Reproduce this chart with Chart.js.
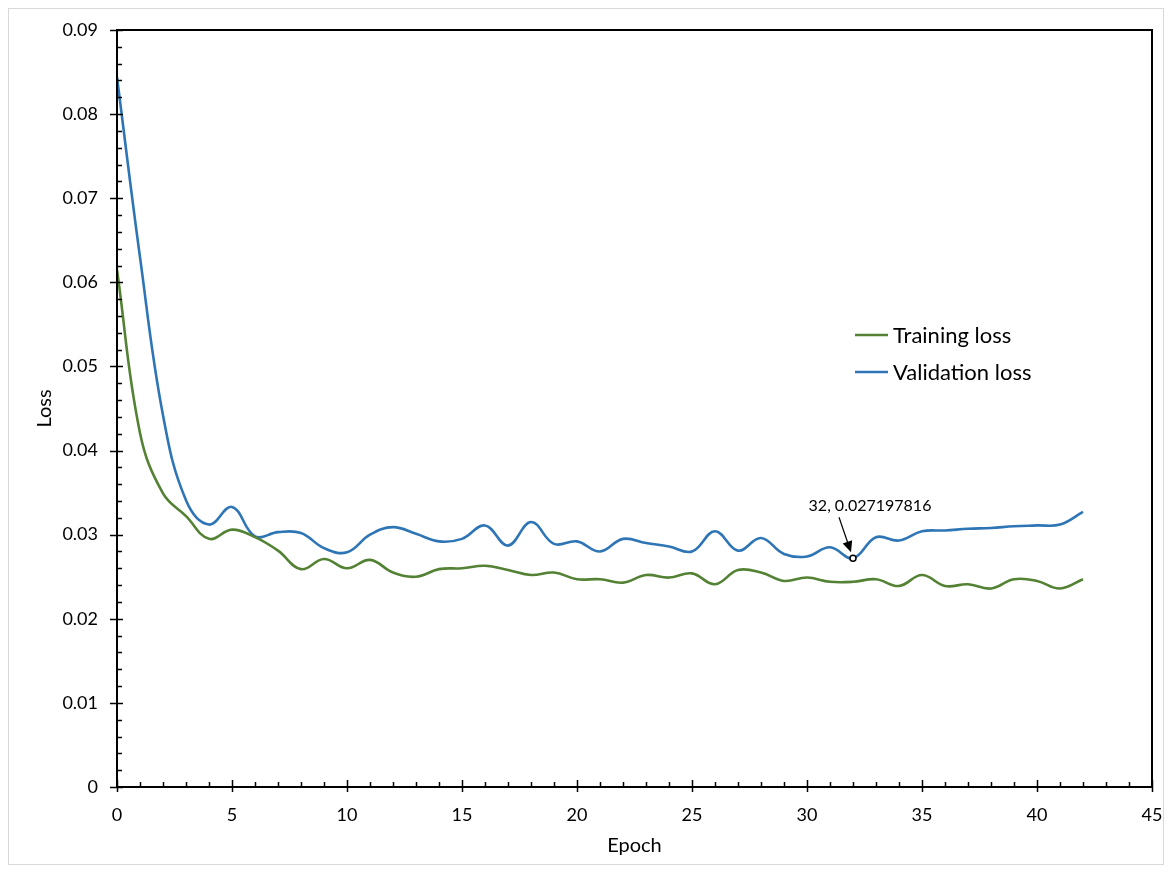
<!DOCTYPE html>
<html><head><meta charset="utf-8">
<script src="https://cdn.jsdelivr.net/npm/chart.js@4.4.1/dist/chart.umd.min.js"></script>
<style>html,body{margin:0;padding:0;background:#fff}#wrap{width:1172px;height:873px;position:relative}</style>
</head><body><div id="wrap"><canvas id="c" width="1172" height="873"></canvas></div>
<script>
const epochs = [0,1,2,3,4,5,6,7,8,9,10,11,12,13,14,15,16,17,18,19,20,21,22,23,24,25,26,27,28,29,30,31,32,33,34,35,36,37,38,39,40,41,42];
const trainingLoss = [0.0615,0.0421,0.0349,0.0322,0.0295,0.0306,0.0297,0.0281,0.0259,0.0271,0.0260,0.0270,0.0255,0.0250,0.0259,0.0260,0.0263,0.0258,0.0252,0.0255,0.0247,0.0247,0.0243,0.0252,0.0249,0.0254,0.0241,0.0258,0.0255,0.0245,0.0249,0.0244,0.0244,0.0247,0.0239,0.0252,0.0239,0.0241,0.0236,0.0247,0.0245,0.0236,0.0247];
const validationLoss = [0.0844,0.0630,0.0442,0.0341,0.0312,0.0333,0.0298,0.0303,0.0302,0.0284,0.0279,0.0300,0.0309,0.0301,0.0292,0.0295,0.0311,0.0287,0.0315,0.0289,0.0292,0.0280,0.0295,0.0290,0.0286,0.0280,0.0304,0.0281,0.0296,0.0277,0.0274,0.0285,0.027197816,0.0297,0.0293,0.0304,0.0305,0.0307,0.0308,0.0310,0.0311,0.0312,0.0327];
const seriesNames = ['Training loss','Validation loss'];
const xTicks = [0,5,10,15,20,25,30,35,40,45];
const yTicks = [0,0.01,0.02,0.03,0.04,0.05,0.06,0.07,0.08,0.09];
const annotatedIndex = 32;
const annotationText = '32, 0.027197816';

const FONT = 'Lato, "Open Sans", sans-serif';
const GREEN = '#548235', BLUE = '#2E75B6';

const decor = {
  id: 'decor',
  beforeDraw(chart) {
    const ctx = chart.ctx;
    ctx.save();
    ctx.fillStyle = '#fff';
    ctx.fillRect(0, 0, chart.width, chart.height);
    ctx.strokeStyle = '#d9d9d9';
    ctx.lineWidth = 1;
    ctx.strokeRect(8.5, 8.5, chart.width - 17, chart.height - 17);
    ctx.restore();
  },
  afterDraw(chart) {
    const ctx = chart.ctx, a = chart.chartArea;
    const xs = chart.scales.x, ys = chart.scales.y;
    ctx.save();
    ctx.strokeStyle = '#000';
    ctx.lineWidth = 2;
    ctx.strokeRect(a.left, a.top, a.right - a.left, a.bottom - a.top);
    ctx.lineWidth = 1.5;
    for (let v = 0; v <= 90; v += 2) {
      const y = Math.round(ys.getPixelForValue(v / 1000)) + 0.5;
      ctx.beginPath();
      if (v % 10 === 0) { ctx.moveTo(a.left - 7, y); ctx.lineTo(a.left + 6, y); }
      else { ctx.moveTo(a.left, y); ctx.lineTo(a.left + 5, y); }
      ctx.stroke();
    }
    for (let v = 0; v <= 45; v += 1) {
      const x = Math.round(xs.getPixelForValue(v)) + 0.5;
      ctx.beginPath();
      if (v % 5 === 0) { ctx.moveTo(x, a.bottom + 5); ctx.lineTo(x, a.bottom - 7); }
      else { ctx.moveTo(x, a.bottom); ctx.lineTo(x, a.bottom - 5); }
      ctx.stroke();
    }
    const names = seriesNames, cols = [GREEN, BLUE];
    ctx.font = '22px ' + FONT;
    ctx.textBaseline = 'middle';
    ctx.textAlign = 'left';
    for (let i = 0; i < 2; i++) {
      const y = 335 + i * 37;
      ctx.strokeStyle = cols[i];
      ctx.lineWidth = 2.5;
      ctx.beginPath(); ctx.moveTo(855, y); ctx.lineTo(888, y); ctx.stroke();
      ctx.fillStyle = '#000';
      ctx.fillText(names[i], 893, y + 1);
    }
    const px = xs.getPixelForValue(epochs[annotatedIndex]);
    const py = ys.getPixelForValue(validationLoss[annotatedIndex]);
    ctx.font = '16px ' + FONT;
    ctx.textAlign = 'center';
    ctx.fillStyle = '#000';
    ctx.fillText(annotationText, px + 17, py - 52);
    const sx = px - 14, sy = py - 41, ex = px - 2, ey = py - 6;
    ctx.strokeStyle = '#000'; ctx.lineWidth = 1.2;
    const ang = Math.atan2(ey - sy, ex - sx);
    ctx.beginPath(); ctx.moveTo(sx, sy);
    ctx.lineTo(ex - 9 * Math.cos(ang), ey - 9 * Math.sin(ang)); ctx.stroke();
    ctx.beginPath();
    ctx.moveTo(ex, ey);
    ctx.lineTo(ex - 11 * Math.cos(ang) + 5 * Math.sin(ang), ey - 11 * Math.sin(ang) - 5 * Math.cos(ang));
    ctx.lineTo(ex - 11 * Math.cos(ang) - 5 * Math.sin(ang), ey - 11 * Math.sin(ang) + 5 * Math.cos(ang));
    ctx.closePath(); ctx.fill();
    ctx.beginPath(); ctx.arc(px, py, 3, 0, Math.PI * 2);
    ctx.fillStyle = '#fff'; ctx.fill();
    ctx.lineWidth = 1.5; ctx.strokeStyle = '#000'; ctx.stroke();
    ctx.restore();
  }
};

new Chart(document.getElementById('c'), {
  type: 'line',
  data: {
    datasets: [
      { label: seriesNames[0], data: epochs.map((e, i) => ({x: e, y: trainingLoss[i]})), borderColor: GREEN, borderWidth: 2.6, pointRadius: 0, tension: 0.4, fill: false },
      { label: seriesNames[1], data: epochs.map((e, i) => ({x: e, y: validationLoss[i]})), borderColor: BLUE, borderWidth: 2.6, pointRadius: 0, tension: 0.4, fill: false }
    ]
  },
  options: {
    responsive: false, animation: false,
    layout: { padding: { left: 30, right: 20, top: 30, bottom: 15 } },
    plugins: { legend: { display: false }, tooltip: { enabled: false } },
    scales: {
      x: {
        type: 'linear', min: 0, max: 45,
        afterBuildTicks: s => { s.ticks = xTicks.map(v => ({value: v})); },
        afterFit: s => { s.height = 71; s.paddingLeft = 0; s.paddingRight = 0; },
        grid: { display: false, drawTicks: false },
        border: { display: false },
        ticks: { padding: 17, color: '#000', font: { family: FONT, size: 18 }, maxRotation: 0 },
        title: { display: true, text: 'Epoch', color: '#000', font: { family: FONT, size: 20 }, padding: 0 }
      },
      y: {
        min: 0, max: 0.09,
        afterBuildTicks: s => { s.ticks = yTicks.map(v => ({value: v})); },
        afterFit: s => { s.width = 87; s.paddingTop = 0; s.paddingBottom = 0; },
        grid: { display: false, drawTicks: false },
        border: { display: false },
        ticks: { padding: 19, color: '#000', font: { family: FONT, size: 18 }, callback: v => v === 0 ? '0' : v.toFixed(2) },
        title: { display: true, text: 'Loss', color: '#000', font: { family: FONT, size: 20 }, padding: 3 }
      }
    }
  },
  plugins: [decor]
});
</script></body></html>
